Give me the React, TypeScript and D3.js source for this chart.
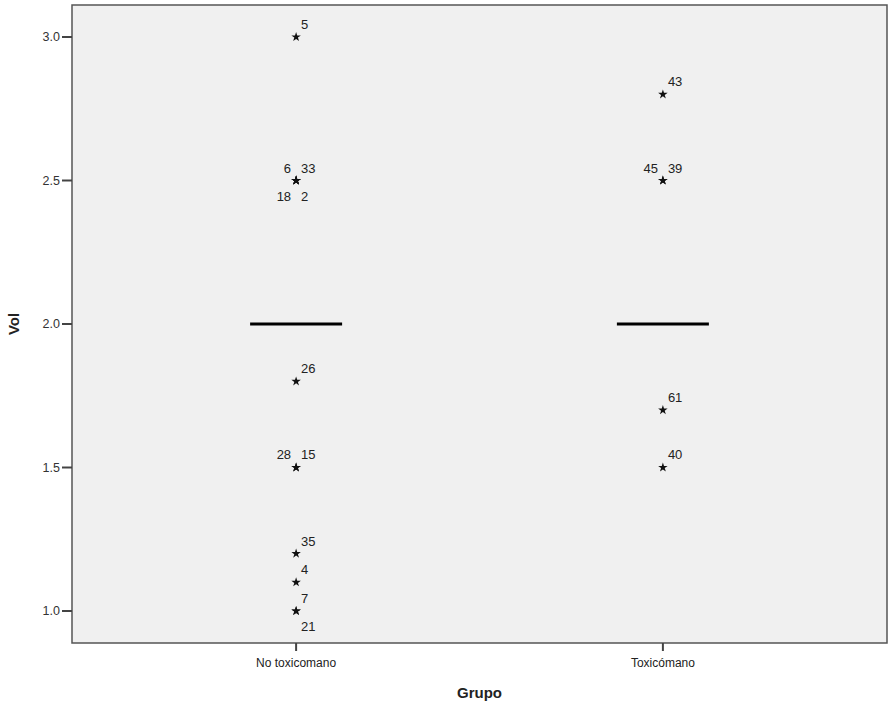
import React from "react";
import * as d3 from "d3";

const categories = ["No toxicomano", "Toxicómano"];
const medians = [2.0, 2.0];
// outliers: group index, value, case id, label corner
const outlierGroup = [0, 0, 0, 0, 0, 0, 0, 0, 0, 0, 0, 0, 1, 1, 1, 1, 1];
const outlierValue = [3.0, 2.5, 2.5, 2.5, 2.5, 1.8, 1.5, 1.5, 1.2, 1.1, 1.0, 1.0, 2.8, 2.5, 2.5, 1.7, 1.5];
const outlierId = ["5", "6", "33", "18", "2", "26", "28", "15", "35", "4", "7", "21", "43", "45", "39", "61", "40"];
const outlierCorner = ["UR", "UL", "UR", "LL", "LR", "UR", "UL", "UR", "UR", "UR", "UR", "LR", "UR", "UL", "UR", "UR", "UR"];
const yTicks = [1.0, 1.5, 2.0, 2.5, 3.0];

export default function App() {
  const W = 889, H = 713;
  const left = 72, right = 887, top = 5, bottom = 643;
  const y = d3.scaleLinear().domain([0.8885, 3.1115]).range([bottom, top]);
  const x = d3.scalePoint<string>().domain(categories).range([left, right]).padding(0.611);
  const star = d3.symbol().type(d3.symbolStar).size(28)() as string;
  const font = "'Liberation Sans', Arial, sans-serif";
  const pts = outlierValue.map((v, i) => ({ g: outlierGroup[i], v, id: outlierId[i], c: outlierCorner[i] }));

  return (
    <svg width={W} height={H} style={{ position: "absolute", left: 0, top: 0 }} fontFamily={font}>
      <rect x={0} y={0} width={W} height={H} fill="#ffffff" />
      <rect x={left} y={top} width={right - left} height={bottom - top} fill="#f0f0f0" stroke="#555" strokeWidth={1.5} />
      {yTicks.map(t => (
        <g key={t}>
          <line x1={left - 10} x2={left} y1={y(t)} y2={y(t)} stroke="#444" strokeWidth={2} />
          <text x={left - 12} y={y(t)} dy="0.35em" textAnchor="end" fontSize={12.5} fill="#333">{t.toFixed(1)}</text>
        </g>
      ))}
      {categories.map(c => (
        <g key={c}>
          <line x1={x(c)} x2={x(c)} y1={bottom} y2={bottom + 8} stroke="#444" strokeWidth={2} />
          <text x={x(c)} y={bottom + 24} textAnchor="middle" fontSize={12} fill="#222">{c}</text>
        </g>
      ))}
      {categories.map((c, i) => (
        <line key={"m" + c} x1={(x(c) as number) - 46} x2={(x(c) as number) + 46} y1={y(medians[i])} y2={y(medians[i])} stroke="#000" strokeWidth={3} />
      ))}
      {pts.map((p, i) => {
        const cx = x(categories[p.g]) as number;
        const cy = y(p.v);
        const dx = p.c.endsWith("R") ? 5 : -5;
        const dyv = p.c.startsWith("U") ? -8 : 20;
        return (
          <g key={i}>
            <path d={star} transform={`translate(${cx},${cy})`} fill="#111" />
            <text x={cx + dx} y={cy + dyv} textAnchor={dx > 0 ? "start" : "end"} fontSize={13} fill="#222">{p.id}</text>
          </g>
        );
      })}
      <text transform={`translate(19,${(top + bottom) / 2}) rotate(-90)`} textAnchor="middle" fontSize={15} fontWeight="bold" fill="#222">Vol</text>
      <text x={(left + right) / 2} y={698} textAnchor="middle" fontSize={15} fontWeight="bold" fill="#222">Grupo</text>
    </svg>
  );
}
